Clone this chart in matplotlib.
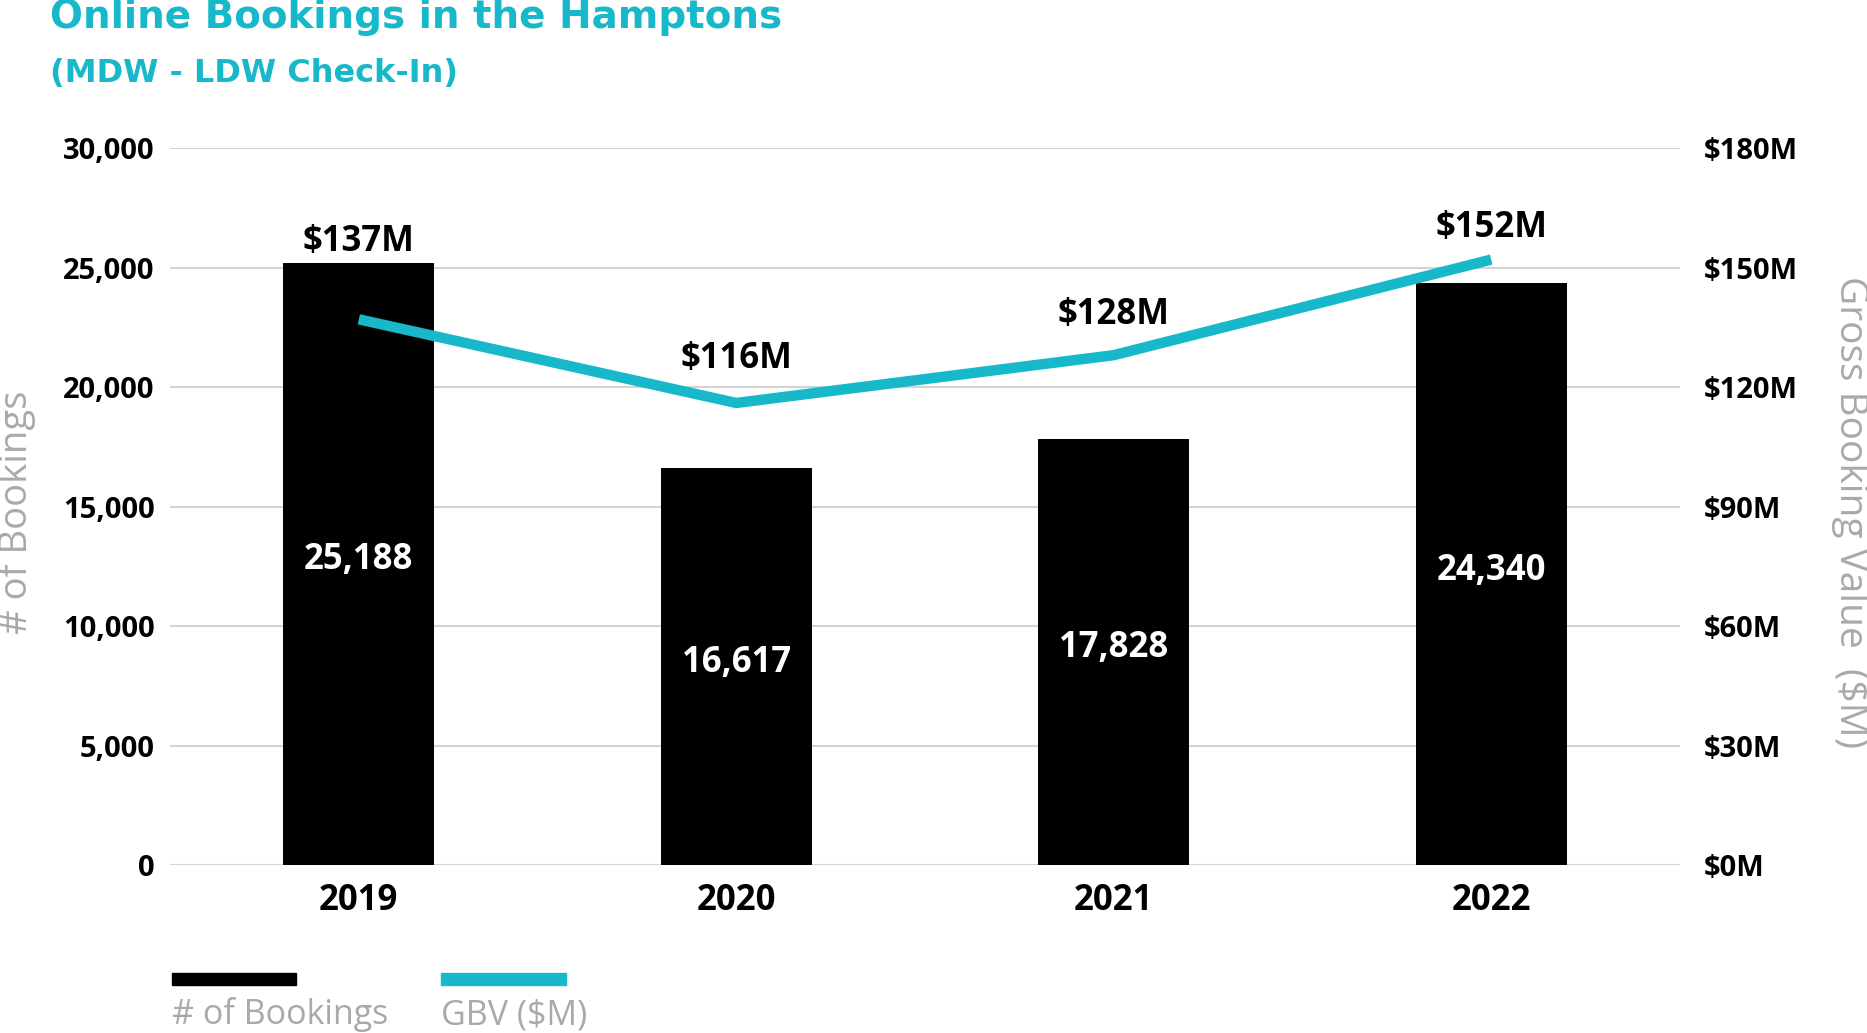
import matplotlib.pyplot as plt
from matplotlib.patches import Rectangle

# data
years = ['2019', '2020', '2021', '2022']
bookings = [25188, 16617, 17828, 24340]
gbv = [137, 116, 128, 152]   # $M

left_ticks = [0, 5000, 10000, 15000, 20000, 25000, 30000]
right_ticks = [0, 30, 60, 90, 120, 150, 180]

teal = '#17b8c9'
grey = '#a7a9ac'
grid_col = '#d3d3d3'

plt.rcParams['font.family'] = ['Open Sans', 'DejaVu Sans']

fig = plt.figure(figsize=(18.67, 10.33), dpi=100)
ax = fig.add_axes([0.0911, 0.1626, 0.8087, 0.6941])
ax2 = ax.twinx()

x = list(range(len(years)))
ax.bar(x, bookings, width=0.4, color='black', zorder=3)
ax.set_xlim(-0.5, 3.5)
ax.set_ylim(0, 30000)
ax.set_yticks(left_ticks)
ax.set_yticklabels([f'{t:,}' for t in left_ticks], fontsize=21, fontweight='bold')
ax.set_xticks(x)
ax.set_xticklabels(years, fontsize=25, fontweight='bold')
ax.tick_params(axis='y', length=0, pad=11)
ax.tick_params(axis='x', length=0, pad=13)
ax.grid(axis='y', color=grid_col, linewidth=1.5, zorder=0)
ax.set_axisbelow(True)
for s in ax.spines.values():
    s.set_visible(False)

# bar value labels (white, inside bars)
for xi, v in zip(x, bookings):
    ax.text(xi, v / 2 + 150, f'{v:,}', color='white', ha='center', va='center',
            fontsize=25, fontweight='bold', zorder=5)

ax2.plot(x, gbv, color=teal, linewidth=7.5, solid_capstyle='butt', zorder=4)
ax2.set_ylim(0, 180)
ax2.set_yticks(right_ticks)
ax2.set_yticklabels([f'${t}M' for t in right_ticks], fontsize=21, fontweight='bold')
ax2.tick_params(axis='y', length=0, pad=17)
for s in ax2.spines.values():
    s.set_visible(False)

# GBV labels above the line
label_off = [56, 32, 29, 23]   # points above the line
for xi, v, off in zip(x, gbv, label_off):
    ax2.annotate(f'${v}M', (xi, v), xytext=(0, off), textcoords='offset points',
                 ha='center', va='center', fontsize=25, fontweight='bold')

# axis titles
fig.text(0.009, 0.504, '# of Bookings', rotation=90, color=grey,
         fontsize=27.5, ha='center', va='center')
fig.text(0.991, 0.504, 'Gross Booking Value  ($M)', rotation=270, color=grey,
         fontsize=28, ha='center', va='center')

# title
fig.text(0.027, 0.984, 'Online Bookings in the Hamptons', color=teal,
         fontsize=28, fontweight='bold', ha='left', va='center',
         family=['DejaVu Sans'])
fig.text(0.027, 0.929, '(MDW - LDW Check-In)', color=teal,
         fontsize=23, fontweight='bold', ha='left', va='center',
         family=['DejaVu Sans'])

# legend drawn by hand below the plot
fig.add_artist(Rectangle((172 / 1867, 1 - 985 / 1033), 124 / 1867, 12 / 1033,
                         transform=fig.transFigure, color='black'))
fig.add_artist(Rectangle((441 / 1867, 1 - 985 / 1033), 125 / 1867, 12 / 1033,
                         transform=fig.transFigure, color=teal))
fig.text(172 / 1867, 1 - 1015 / 1033, '# of Bookings', color=grey, fontsize=24.5,
         ha='left', va='center')
fig.text(441 / 1867, 1 - 1015 / 1033, 'GBV ($M)', color=grey, fontsize=24.5,
         ha='left', va='center')

fig.savefig('out.png', dpi=100)
